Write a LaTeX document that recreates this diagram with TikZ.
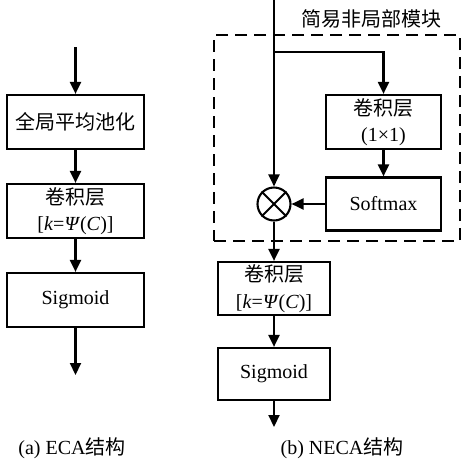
\documentclass[tikz,border=0pt]{standalone}
\usepackage{fontspec}
\setmainfont{Liberation Serif}
\newfontfamily\cjk{Noto Sans CJK SC}
\usetikzlibrary{arrows.meta}
\begin{document}
\begin{tikzpicture}[x=1pt, y=-1pt,
  line width=2.1pt,
  txt/.style={font=\fontsize{20}{26.5}\selectfont, align=center, inner sep=0pt},
  box/.style={txt, draw, line width=2.2pt},
  flow/.style={-{Triangle[length=12pt,width=11pt]}, line width=2.1pt},
  dashbox/.style={draw, line width=2.1pt, dash pattern=on 12pt off 7pt},
]
\useasboundingbox (0,0) rectangle (462,461);

% ---- (a) ECA ----
\coordinate (ain) at (75.5,47);
\node[box, minimum width=137pt, minimum height=54pt] (gap) at (75.5,122) {{\cjk 全局平均池化}};
\node[box, minimum width=137pt, minimum height=54pt] (aconv) at (75.5,211) {{\cjk 卷积层}\\{}[\textit{k}=\textit{Ψ}(\textit{C})]};
\node[box, minimum width=137pt, minimum height=54pt] (asig) at (75.5,300) {Sigmoid};
\coordinate (aout) at (75.5,375);
\draw[flow] (ain) -- (gap);
\draw[flow] (gap) -- (aconv);
\draw[flow] (aconv) -- (asig);
\draw[flow] (asig) -- (aout);
\node[txt] (alabel) at (72,448) {(a) ECA{\cjk 结构}};

% ---- (b) NECA ----
\node[dashbox, minimum width=246pt, minimum height=206pt, inner sep=0pt] (nlbox) at (337,138) {};
\node[txt] (nltitle) at (371,19) {{\cjk 简易非局部模块}};
\coordinate (bin) at (274,0);
\coordinate (split) at (274,52);
\node[box, minimum width=115pt, minimum height=54pt] (conv11) at (383.5,122) {{\cjk 卷积层}\\(1×1)};
\node[box, minimum width=115pt, minimum height=53pt] (soft) at (383.5,204) {Softmax};
\node[draw, circle, line width=2.1pt, minimum size=33pt, inner sep=0pt] (mul) at (274,204) {};
\draw (mul.45) -- (mul.225);
\draw (mul.135) -- (mul.315);
\node[box, minimum width=112pt, minimum height=53pt] (bconv) at (274,288.5) {{\cjk 卷积层}\\{}[\textit{k}=\textit{Ψ}(\textit{C})]};
\node[box, minimum width=112pt, minimum height=52pt] (bsig) at (274,374) {Sigmoid};
\coordinate (bout) at (274,427);
\draw[flow] (bin) -- (mul);
\draw[flow] (split) -| (conv11);
\draw[flow] (conv11) -- (soft);
\draw[flow] (soft) -- (mul);
\draw[flow] (mul) -- (bconv);
\draw[flow] (bconv) -- (bsig);
\draw[flow] (bsig) -- (bout);
\node[txt] (blabel) at (342,448) {(b) NECA{\cjk 结构}};
\end{tikzpicture}
\end{document}
